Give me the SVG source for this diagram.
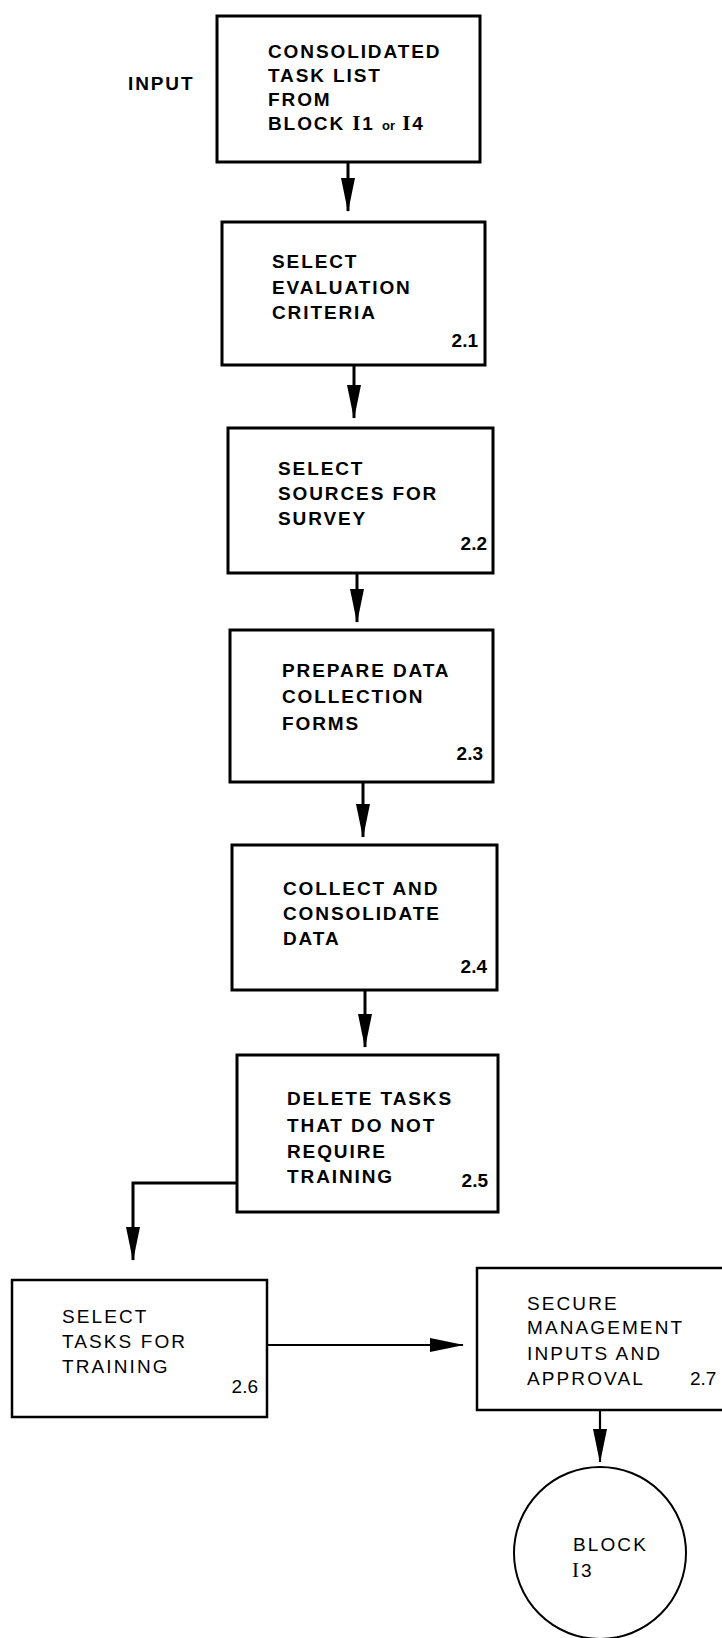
<svg xmlns="http://www.w3.org/2000/svg" width="722" height="1638" viewBox="0 0 722 1638">
<style>
  .box { fill: #fff; stroke: #000; stroke-width: 3; }
  .box2 { fill: #fff; stroke: #000; stroke-width: 2.5; }
  .bt { font-family: "Liberation Sans", Arial, sans-serif; font-weight: bold; font-size: 19px; letter-spacing: 1.9px; fill: #000; }
  .rt { font-family: "Liberation Sans", Arial, sans-serif; font-size: 19px; letter-spacing: 2.1px; fill: #000; }
  .num { font-family: "Liberation Sans", Arial, sans-serif; font-weight: bold; font-size: 19px; fill: #000; }
  .numr { font-family: "Liberation Sans", Arial, sans-serif; font-size: 19px; fill: #000; }
  .rom { font-family: "Liberation Serif", "Times New Roman", serif; font-size: 21px; }
  .conn { fill: none; stroke: #000; stroke-width: 3; }
  .conn2 { fill: none; stroke: #000; stroke-width: 2.2; }
</style>
<defs>
  <marker id="ah" markerUnits="userSpaceOnUse" markerWidth="34" markerHeight="14" viewBox="0 0 34 14" refX="33" refY="7" orient="auto">
    <path d="M0,0 L34,7 L0,14 z" fill="#000"/>
  </marker>
</defs>
<rect width="722" height="1638" fill="#fff"/>

<g id="input-label">
  <text class="bt" x="128" y="90">INPUT</text>
</g>

<g id="n1">
  <rect class="box" x="217" y="16" width="263" height="146"/>
  <text class="bt" x="268" y="58">CONSOLIDATED</text>
  <text class="bt" x="268" y="82">TASK LIST</text>
  <text class="bt" x="268" y="106">FROM</text>
  <text class="bt" x="268" y="130">BLOCK <tspan class="rom">I</tspan>1 <tspan font-size="13" letter-spacing="0">or</tspan> <tspan class="rom">I</tspan>4</text>
</g>

<g id="n2">
  <rect class="box" x="222" y="222" width="263" height="143"/>
  <text class="bt" x="272" y="268">SELECT</text>
  <text class="bt" x="272" y="294">EVALUATION</text>
  <text class="bt" x="272" y="319">CRITERIA</text>
  <text class="num" x="478" y="347" text-anchor="end">2.1</text>
</g>

<g id="n3">
  <rect class="box" x="228" y="428" width="265" height="145"/>
  <text class="bt" x="278" y="475">SELECT</text>
  <text class="bt" x="278" y="500">SOURCES FOR</text>
  <text class="bt" x="278" y="525">SURVEY</text>
  <text class="num" x="487" y="550" text-anchor="end">2.2</text>
</g>

<g id="n4">
  <rect class="box" x="230" y="630" width="263" height="152"/>
  <text class="bt" x="282" y="677">PREPARE DATA</text>
  <text class="bt" x="282" y="703">COLLECTION</text>
  <text class="bt" x="282" y="730">FORMS</text>
  <text class="num" x="483" y="760" text-anchor="end">2.3</text>
</g>

<g id="n5">
  <rect class="box" x="232" y="845" width="265" height="145"/>
  <text class="bt" x="283" y="895">COLLECT AND</text>
  <text class="bt" x="283" y="920">CONSOLIDATE</text>
  <text class="bt" x="283" y="945">DATA</text>
  <text class="num" x="487" y="973" text-anchor="end">2.4</text>
</g>

<g id="n6">
  <rect class="box" x="237" y="1055" width="261" height="157"/>
  <text class="bt" x="287" y="1105">DELETE TASKS</text>
  <text class="bt" x="287" y="1132">THAT DO NOT</text>
  <text class="bt" x="287" y="1158">REQUIRE</text>
  <text class="bt" x="287" y="1183">TRAINING</text>
  <text class="num" x="488" y="1187" text-anchor="end">2.5</text>
</g>

<g id="n7">
  <rect class="box2" x="12" y="1280" width="255" height="137"/>
  <text class="rt" x="62" y="1323">SELECT</text>
  <text class="rt" x="62" y="1348">TASKS FOR</text>
  <text class="rt" x="62" y="1373">TRAINING</text>
  <text class="numr" x="258" y="1393" text-anchor="end">2.6</text>
</g>

<g id="n8">
  <rect class="box2" x="477" y="1268" width="260" height="142"/>
  <text class="rt" x="527" y="1310">SECURE</text>
  <text class="rt" x="527" y="1334">MANAGEMENT</text>
  <text class="rt" x="527" y="1360">INPUTS AND</text>
  <text class="rt" x="527" y="1385">APPROVAL</text>
  <text class="numr" x="690" y="1385">2.7</text>
</g>

<g id="n9">
  <circle cx="600" cy="1553" r="86" fill="#fff" stroke="#000" stroke-width="2"/>
  <text class="rt" x="573" y="1551" letter-spacing="1.6">BLOCK</text>
  <text class="rt" x="572" y="1577" letter-spacing="1"><tspan class="rom">I</tspan>3</text>
</g>

<g id="connectors">
  <line class="conn" x1="348" y1="162" x2="348" y2="211" marker-end="url(#ah)"/>
  <line class="conn" x1="354" y1="365" x2="354" y2="418" marker-end="url(#ah)"/>
  <line class="conn" x1="357" y1="573" x2="357" y2="622" marker-end="url(#ah)"/>
  <line class="conn" x1="363" y1="782" x2="363" y2="837" marker-end="url(#ah)"/>
  <line class="conn" x1="365" y1="990" x2="365" y2="1047" marker-end="url(#ah)"/>
  <polyline class="conn" points="237,1183 133,1183 133,1260" marker-end="url(#ah)"/>
  <line class="conn2" x1="267" y1="1345" x2="463" y2="1345" marker-end="url(#ah)"/>
  <line class="conn2" x1="600" y1="1410" x2="600" y2="1462" marker-end="url(#ah)"/>
</g>
</svg>
